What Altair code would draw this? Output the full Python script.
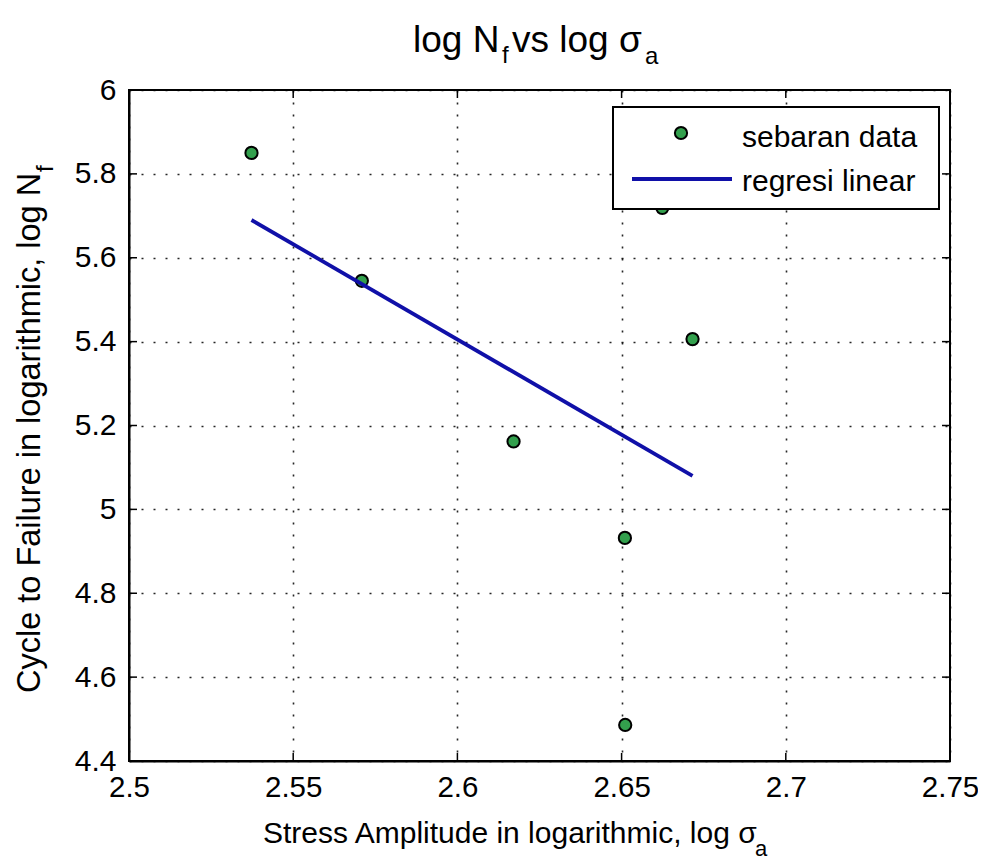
import altair as alt
import pandas as pd

# ---- data ----
x_vals = [2.5373, 2.5709, 2.6171, 2.6510, 2.6511, 2.6716, 2.6624]
y_vals = [5.850, 5.545, 5.162, 4.932, 4.486, 5.406, 5.719]
fit_x = [2.5373, 2.6716]
fit_y = [5.690, 5.080]
x_ticks = [2.5, 2.55, 2.6, 2.65, 2.7, 2.75]
y_ticks = [4.4, 4.6, 4.8, 5.0, 5.2, 5.4, 5.6, 5.8, 6.0]
legend_labels = ["sebaran data", "regresi linear"]
title_main = ["log N", "vs log σ"]
title_sub = ["f", "a"]
x_title = ["Stress Amplitude in logarithmic, log σ", "a"]
y_title = ["Cycle to Failure in logarithmic, log N", "f"]

W, H = 821, 671
OX = 2  # plot area sits 2px left of the reference; shift overlays back
FONT = "Liberation Sans"
GREEN = "#33a04d"
BLUE = "#1010a8"

xs = alt.Scale(domain=[2.5, 2.75], nice=False, zero=False)
ys = alt.Scale(domain=[4.4, 6.0], nice=False, zero=False)

common_axis = dict(grid=True, gridColor="black", gridDash=[2, 10], gridWidth=1.6,
                   gridOpacity=0.85, ticks=False, domain=True, domainColor="black",
                   domainWidth=2, labelFont=FONT, labelColor="black",
                   labelFlush=False, labelOverlap=False, title=None, format="~g")
X_AXIS = alt.Axis(values=x_ticks, labelPadding=12, labelFontSize=29.5, **common_axis)
Y_AXIS = alt.Axis(values=y_ticks, labelPadding=13, labelFontSize=30, **common_axis)

pts = alt.Chart(pd.DataFrame({"x": x_vals, "y": y_vals})).mark_circle(
    size=150, color=GREEN, stroke="black", strokeWidth=2, opacity=1
).encode(
    x=alt.X("x:Q", scale=xs, axis=X_AXIS),
    y=alt.Y("y:Q", scale=ys, axis=Y_AXIS),
)

fit = alt.Chart(pd.DataFrame({"x": fit_x, "y": fit_y})).mark_line(
    color=BLUE, strokeWidth=3.8
).encode(
    x=alt.X("x:Q", scale=xs, axis=X_AXIS),
    y=alt.Y("y:Q", scale=ys, axis=Y_AXIS),
)

xt = pd.DataFrame({"x": x_ticks})
yt = pd.DataFrame({"y": y_ticks})
tick_layers = [
    alt.Chart(xt).mark_rule(color="black", strokeWidth=1.5).encode(
        x=alt.X("x:Q", scale=xs, axis=X_AXIS), y=alt.value(H), y2=alt.value(H - 8)),
    alt.Chart(xt).mark_rule(color="black", strokeWidth=1.5).encode(
        x=alt.X("x:Q", scale=xs, axis=X_AXIS), y=alt.value(0), y2=alt.value(8)),
    alt.Chart(yt).mark_rule(color="black", strokeWidth=1.5).encode(
        y=alt.Y("y:Q", scale=ys, axis=Y_AXIS), x=alt.value(0), x2=alt.value(8)),
    alt.Chart(yt).mark_rule(color="black", strokeWidth=1.5).encode(
        y=alt.Y("y:Q", scale=ys, axis=Y_AXIS), x=alt.value(W), x2=alt.value(W - 8)),
]

one = pd.DataFrame({"k": [0]})

# legend
leg_box = alt.Chart(one).mark_rect(fill="white", stroke="black", strokeWidth=2).encode(
    x=alt.value(482 + OX), x2=alt.value(808 + OX), y=alt.value(17), y2=alt.value(119))
leg_pt = alt.Chart(one).mark_circle(size=150, color=GREEN, stroke="black",
                                    strokeWidth=2, opacity=1).encode(
    x=alt.value(550 + OX), y=alt.value(43))
leg_line = alt.Chart(one).mark_rule(color=BLUE, strokeWidth=3.8).encode(
    x=alt.value(501 + OX), x2=alt.value(601 + OX), y=alt.value(89))


def txt(s, x, y, size, angle=0, baseline="alphabetic"):
    return alt.Chart(pd.DataFrame({"t": [s]})).mark_text(
        align="left", baseline=baseline, font=FONT, fontSize=size,
        color="black", angle=angle
    ).encode(x=alt.value(x + OX), y=alt.value(y), text="t:N")


leg_t1 = txt(legend_labels[0], 611, 48, 30, baseline="middle")
leg_t2 = txt(legend_labels[1], 611, 92, 30, baseline="middle")

texts = [
    txt(title_main[0], 282, -38, 37),
    txt(title_sub[0], 371, -27, 24),
    txt(title_main[1], 381, -38, 37),
    txt(title_sub[1], 514, -26, 24),
    txt(x_title[0], 132, 753, 30),
    txt(x_title[1], 624, 766, 22),
    txt(y_title[0], -91, 603, 32.5, angle=270),
    txt(y_title[1], -78, 82, 24, angle=270),
]

chart = alt.layer(
    pts, fit, *tick_layers, leg_box, leg_pt, leg_line, leg_t1, leg_t2, *texts
).properties(
    width=W, height=H,
    autosize=alt.AutoSizeParams(type="none"),
    padding={"left": 121, "top": 82, "right": 28, "bottom": 96},
    background="white",
).configure_view(stroke="black", strokeWidth=2)

chart.save("out.html", embed_options={"renderer": "svg", "actions": False})
